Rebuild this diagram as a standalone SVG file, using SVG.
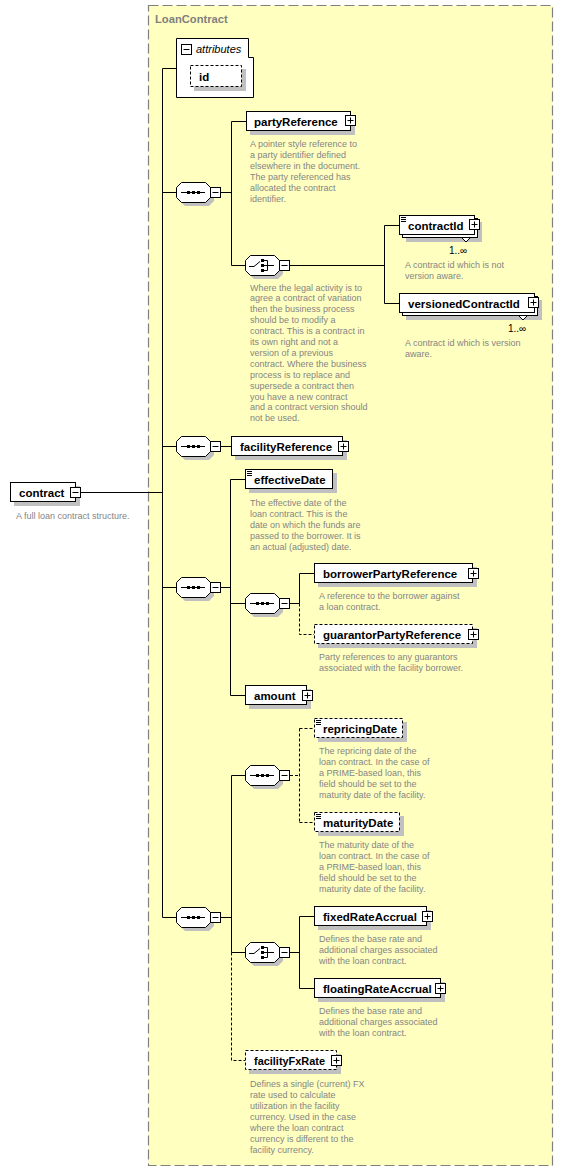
<svg xmlns="http://www.w3.org/2000/svg" xmlns:xlink="http://www.w3.org/1999/xlink" width="564" height="1171" viewBox="0 0 564 1171">
<style>
.grp{fill:#FFFFC0;stroke:#808080;stroke-width:1.2;stroke-dasharray:10,4}
.grpt{font-family:"Liberation Sans",Arial,sans-serif;font-size:11.2px;font-weight:bold;fill:#808080}
.box{fill:#fff;stroke:#000;stroke-width:1}
.dbox{fill:#fff;stroke:#000;stroke-width:1;stroke-dasharray:3,2}
.sh{fill:#C0C0C0;stroke:none}
.lbl{font-family:"Liberation Sans",Arial,sans-serif;font-size:11.5px;font-weight:bold;fill:#000}
.it{font-family:"Liberation Sans",Arial,sans-serif;font-size:11px;font-style:italic;fill:#000}
.desc{font-family:"Liberation Sans",Arial,sans-serif;font-size:9px;fill:#858585}
.occ{font-family:"Liberation Sans",Arial,sans-serif;font-size:10px;fill:#000}
.ln{fill:none;stroke:#000;stroke-width:1}
.dl{fill:none;stroke:#000;stroke-width:1;stroke-dasharray:3,2}
.blk{fill:#000;stroke:none}
</style>
<defs>
<g id="minus"><rect class="box" x="0.5" y="0.5" width="10" height="10"/><line class="ln" x1="2.5" y1="5.5" x2="8.5" y2="5.5"/></g>
<g id="plus"><rect class="box" x="0.5" y="0.5" width="10" height="10"/><line class="ln" x1="2.5" y1="5.5" x2="8.5" y2="5.5"/><line class="ln" x1="5.5" y1="2.5" x2="5.5" y2="8.5"/></g>
<g id="simple"><line class="ln" x1="0" y1="0.5" x2="5" y2="0.5"/><line class="ln" x1="0" y1="2.5" x2="5" y2="2.5"/><line class="ln" x1="0" y1="4.5" x2="5" y2="4.5"/></g>
<polygon id="octsh" class="sh" points="9,4 33,4 38,9 38,19 33,24 9,24 4,19 4,9"/>
<polygon id="oct" class="box" points="5.5,0.5 29.5,0.5 34.5,5.5 34.5,15.5 29.5,20.5 5.5,20.5 0.5,15.5 0.5,5.5"/>
<g id="seq">
<use xlink:href="#octsh"/><use xlink:href="#oct"/>
<line class="ln" x1="5" y1="10.5" x2="29" y2="10.5"/>
<rect class="blk" x="11" y="9" width="3" height="3"/><rect class="blk" x="16" y="9" width="3" height="3"/><rect class="blk" x="21" y="9" width="3" height="3"/>
<use xlink:href="#minus" x="34" y="5"/>
</g>
<g id="choice">
<use xlink:href="#octsh"/><use xlink:href="#oct"/>
<line class="ln" x1="4" y1="11.5" x2="9" y2="11.5"/>
<line class="ln" x1="9" y1="11.5" x2="15" y2="6.5"/>
<rect class="blk" x="16" y="4" width="3" height="3"/><rect class="blk" x="16" y="9" width="3" height="3"/><rect class="blk" x="16" y="14" width="3" height="3"/>
<path class="ln" d="M19,5.5 H22.5 V15.5 H19 M19,10.5 H22.5 M22.5,10.5 H29"/>
<use xlink:href="#minus" x="34" y="5"/>
</g>
</defs>

<rect x="0" y="0" width="564" height="1171" fill="#fff"/>

<g id="LoanContract">
<rect class="grp" x="148.5" y="5.5" width="404" height="1160"/>
<text class="grpt" x="155" y="23">LoanContract</text>
</g>

<g id="connectors">
<path class="ln" d="M81,492.5 H162.5 M162.5,68.5 V917.5 M162.5,68.5 H176 M162.5,192.5 H176"/>
<path class="ln" d="M221,192.5 H231.5 M231.5,121.5 V265.5 M231.5,121.5 H246 M231.5,265.5 H245"/>
<path class="ln" d="M290,265.5 H384.5 M384.5,225.5 V303.5 M384.5,225.5 H399 M384.5,303.5 H399"/>
<path class="ln" d="M162.5,446.5 H176 M221,446.5 H231"/>
<path class="ln" d="M162.5,587.5 H176 M221,587.5 H230.5 M230.5,479.5 V695.5 M230.5,479.5 H245 M230.5,603.5 H245 M230.5,695.5 H245"/>
<path class="ln" d="M290,603.5 H299.5 M299.5,573.5 V603.5 M299.5,573.5 H314"/>
<path class="dl" d="M299.5,603.5 V634.5 H314"/>
<path class="ln" d="M162.5,917.5 H176 M221,917.5 H231.5 M231.5,775.5 V952.5 M231.5,775.5 H245 M231.5,952.5 H245"/>
<path class="dl" d="M231.5,952.5 V1060.5 H245"/>
<path class="dl" d="M290,775.5 H299.5 M299.5,728.5 V822.5 M299.5,728.5 H314 M299.5,822.5 H314"/>
<path class="ln" d="M290,952.5 H299.5 M299.5,916.5 V988.5 M299.5,916.5 H314 M299.5,988.5 H314"/>
</g>

<g id="contract">
<rect class="sh" x="14" y="486" width="66" height="20"/>
<rect class="box" x="10.5" y="482.5" width="65" height="19"/>
<text class="lbl" x="19" y="497">contract</text>
<use xlink:href="#minus" x="70" y="487"/>
<text class="desc" x="16" y="518.5">A full loan contract structure.</text>
</g>

<g id="attributes">
<polygon class="box" points="176.5,38.5 248.5,38.5 248.5,57.5 253.5,57.5 253.5,97.5 176.5,97.5"/>
<use xlink:href="#minus" x="181" y="44"/>
<text class="it" x="196" y="52.5">attributes</text>
</g>
<g id="id">
<rect class="sh" x="194" y="69" width="52" height="22"/>
<rect class="dbox" x="190.5" y="65.5" width="51" height="21"/>
<text class="lbl" x="199" y="80.5">id</text>
</g>

<g id="seq1"><use xlink:href="#seq" x="176" y="182"/></g>

<g id="partyReference">
<rect class="sh" x="250" y="115" width="105" height="20"/>
<rect class="box" x="246.5" y="111.5" width="104" height="19"/>
<text class="lbl" x="254" y="125.5">partyReference</text>
<use xlink:href="#plus" x="345" y="115"/>
<text class="desc" x="250" y="146.5">A pointer style reference to<tspan x="250" dy="11">a party identifier defined</tspan><tspan x="250" dy="11">elsewhere in the document.</tspan><tspan x="250" dy="11">The party referenced has</tspan><tspan x="250" dy="11">allocated the contract</tspan><tspan x="250" dy="11">identifier.</tspan></text>
</g>

<g id="choice1">
<use xlink:href="#choice" x="245" y="255"/>
<text class="desc" x="250" y="290.5">Where the legal activity is to<tspan x="250" dy="10.9">agree a contract of variation</tspan><tspan x="250" dy="10.9">then the business process</tspan><tspan x="250" dy="10.9">should be to modify a</tspan><tspan x="250" dy="10.9">contract. This is a contract in</tspan><tspan x="250" dy="10.9">its own right and not a</tspan><tspan x="250" dy="10.9">version of a previous</tspan><tspan x="250" dy="10.9">contract. Where the business</tspan><tspan x="250" dy="10.9">process is to replace and</tspan><tspan x="250" dy="10.9">supersede a contract then</tspan><tspan x="250" dy="10.9">you have a new contract</tspan><tspan x="250" dy="10.9">and a contract version should</tspan><tspan x="250" dy="10.9">not be used.</tspan></text>
</g>

<g id="contractId">
<rect class="sh" x="406" y="222" width="76" height="20"/>
<rect class="box" x="402.5" y="218.5" width="75" height="19"/>
<rect class="box" x="399.5" y="215.5" width="75" height="19"/>
<use xlink:href="#simple" x="401" y="217"/>
<text class="lbl" x="408" y="230">contractId</text>
<use xlink:href="#plus" x="469" y="219"/>
<polyline class="box" points="462,238 466,242 470,238"/>
<text class="occ" x="449" y="254">1..∞</text>
<text class="desc" x="405" y="268">A contract id which is not<tspan x="405" dy="11">version aware.</tspan></text>
</g>

<g id="versionedContractId">
<rect class="sh" x="406" y="300" width="136" height="20"/>
<rect class="box" x="402.5" y="296.5" width="135" height="19"/>
<rect class="box" x="399.5" y="293.5" width="135" height="19"/>
<text class="lbl" x="408" y="308">versionedContractId</text>
<use xlink:href="#plus" x="528" y="297"/>
<polyline class="box" points="519,316 523,320 527,316"/>
<text class="occ" x="508" y="332">1..∞</text>
<text class="desc" x="405" y="346">A contract id which is version<tspan x="405" dy="11">aware.</tspan></text>
</g>

<g id="seq2"><use xlink:href="#seq" x="176" y="436"/></g>

<g id="facilityReference">
<rect class="sh" x="235" y="440" width="112" height="20"/>
<rect class="box" x="231.5" y="436.5" width="111" height="19"/>
<text class="lbl" x="240" y="451">facilityReference</text>
<use xlink:href="#plus" x="338" y="441"/>
</g>

<g id="seq3"><use xlink:href="#seq" x="176" y="577"/></g>

<g id="effectiveDate">
<rect class="sh" x="249" y="473" width="88" height="20"/>
<rect class="box" x="245.5" y="469.5" width="87" height="19"/>
<use xlink:href="#simple" x="247" y="471"/>
<text class="lbl" x="254" y="484">effectiveDate</text>
<text class="desc" x="250" y="505.5">The effective date of the<tspan x="250" dy="11">loan contract. This is the</tspan><tspan x="250" dy="11">date on which the funds are</tspan><tspan x="250" dy="11">passed to the borrower. It is</tspan><tspan x="250" dy="11">an actual (adjusted) date.</tspan></text>
</g>

<g id="seq3a"><use xlink:href="#seq" x="245" y="593"/></g>

<g id="borrowerPartyReference">
<rect class="sh" x="318" y="567" width="159" height="20"/>
<rect class="box" x="314.5" y="563.5" width="158" height="19"/>
<text class="lbl" x="323" y="578">borrowerPartyReference</text>
<use xlink:href="#plus" x="468" y="568"/>
<text class="desc" x="319" y="599">A reference to the borrower against<tspan x="319" dy="11">a loan contract.</tspan></text>
</g>

<g id="guarantorPartyReference">
<rect class="sh" x="318" y="628" width="159" height="20"/>
<rect class="dbox" x="314.5" y="624.5" width="158" height="19"/>
<text class="lbl" x="323" y="639">guarantorPartyReference</text>
<use xlink:href="#plus" x="468" y="629"/>
<text class="desc" x="319" y="660">Party references to any guarantors<tspan x="319" dy="11">associated with the facility borrower.</tspan></text>
</g>

<g id="amount">
<rect class="sh" x="249" y="689" width="62" height="20"/>
<rect class="box" x="245.5" y="685.5" width="61" height="19"/>
<text class="lbl" x="254" y="700">amount</text>
<use xlink:href="#plus" x="302" y="690"/>
</g>

<g id="seq4"><use xlink:href="#seq" x="176" y="907"/></g>
<g id="seq4a"><use xlink:href="#seq" x="245" y="765"/></g>

<g id="repricingDate">
<rect class="sh" x="318" y="722" width="89" height="20"/>
<rect class="dbox" x="314.5" y="718.5" width="88" height="19"/>
<use xlink:href="#simple" x="316" y="720"/>
<text class="lbl" x="323" y="733">repricingDate</text>
<text class="desc" x="319" y="754">The repricing date of the<tspan x="319" dy="11">loan contract. In the case of</tspan><tspan x="319" dy="11">a PRIME-based loan, this</tspan><tspan x="319" dy="11">field should be set to the</tspan><tspan x="319" dy="11">maturity date of the facility.</tspan></text>
</g>

<g id="maturityDate">
<rect class="sh" x="318" y="816" width="86" height="20"/>
<rect class="dbox" x="314.5" y="812.5" width="85" height="19"/>
<use xlink:href="#simple" x="316" y="814"/>
<text class="lbl" x="323" y="827">maturityDate</text>
<text class="desc" x="319" y="848">The maturity date of the<tspan x="319" dy="11">loan contract. In the case of</tspan><tspan x="319" dy="11">a PRIME-based loan, this</tspan><tspan x="319" dy="11">field should be set to the</tspan><tspan x="319" dy="11">maturity date of the facility.</tspan></text>
</g>

<g id="choice2"><use xlink:href="#choice" x="245" y="942"/></g>

<g id="fixedRateAccrual">
<rect class="sh" x="318" y="910" width="113" height="20"/>
<rect class="box" x="314.5" y="906.5" width="112" height="19"/>
<text class="lbl" x="323" y="921">fixedRateAccrual</text>
<use xlink:href="#plus" x="422" y="911"/>
<text class="desc" x="319" y="941.5">Defines the base rate and<tspan x="319" dy="11">additional charges associated</tspan><tspan x="319" dy="11">with the loan contract.</tspan></text>
</g>

<g id="floatingRateAccrual">
<rect class="sh" x="318" y="982" width="127" height="20"/>
<rect class="box" x="314.5" y="978.5" width="126" height="19"/>
<text class="lbl" x="323" y="993">floatingRateAccrual</text>
<use xlink:href="#plus" x="435" y="983"/>
<text class="desc" x="319" y="1013.5">Defines the base rate and<tspan x="319" dy="11">additional charges associated</tspan><tspan x="319" dy="11">with the loan contract.</tspan></text>
</g>

<g id="facilityFxRate">
<rect class="sh" x="249" y="1054" width="92" height="20"/>
<rect class="dbox" x="245.5" y="1050.5" width="91" height="19"/>
<text class="lbl" x="254" y="1065" textLength="71" lengthAdjust="spacingAndGlyphs">facilityFxRate</text>
<use xlink:href="#plus" x="331" y="1055"/>
<text class="desc" x="250" y="1086.5">Defines a single (current) FX<tspan x="250" dy="11">rate used to calculate</tspan><tspan x="250" dy="11">utilization in the facility</tspan><tspan x="250" dy="11">currency. Used in the case</tspan><tspan x="250" dy="11">where the loan contract</tspan><tspan x="250" dy="11">currency is different to the</tspan><tspan x="250" dy="11">facility currency.</tspan></text>
</g>
</svg>
